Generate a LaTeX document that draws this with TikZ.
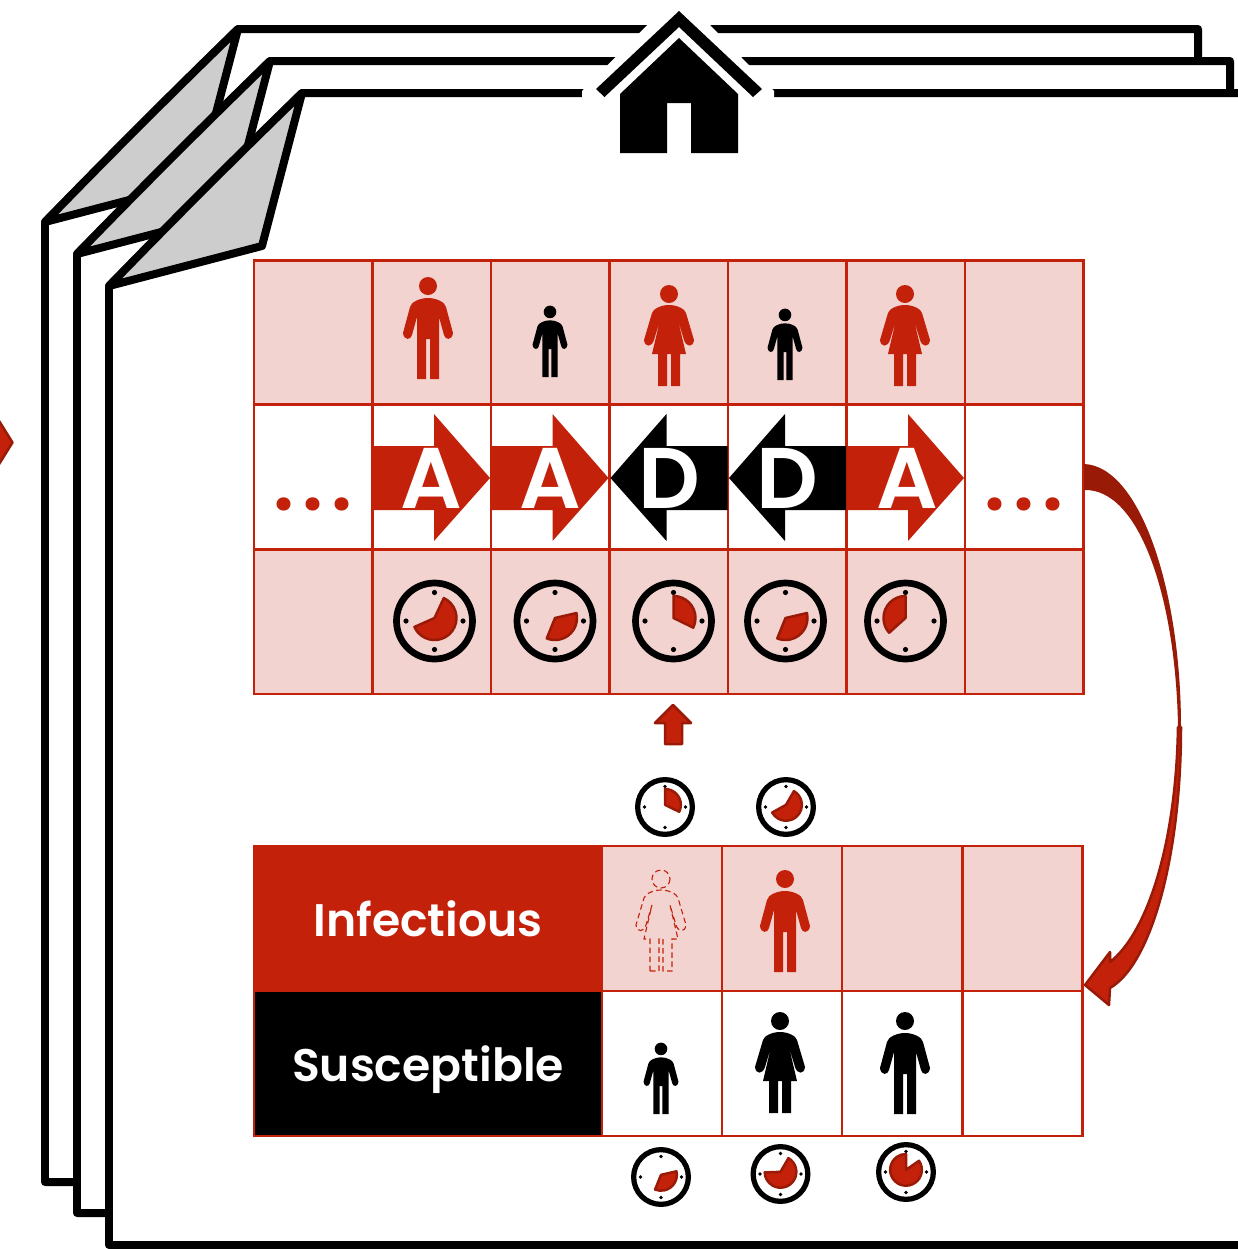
\documentclass[tikz,border=0pt]{standalone}
\usepackage{fontspec}
\usepackage{xcolor}
\usepackage{tikz}
\usetikzlibrary{positioning}
\newfontfamily\gothicfont[BoldFont={Poppins SemiBold}]{Poppins}
\definecolor{hhred}{HTML}{C4210B}
\definecolor{hhdark}{HTML}{9A1A08}
\definecolor{hhpink}{HTML}{F2D3D0}
\definecolor{hhgray}{HTML}{CDCDCD}
\tikzset{
  cellbox/.style={draw=hhred,line width=0.05cm,minimum width=2.37cm,minimum height=2.89cm,inner sep=0pt},
  slotbox/.style={draw=hhred,line width=0.05cm,minimum width=2.4cm,minimum height=2.9cm,inner sep=0pt},
  pagebox/.style={draw=black,line width=0.16cm,line join=round,fill=white},
  pagefold/.style={draw=black,line width=0.16cm,line join=round,fill=hhgray},
  redbit/.style={fill=hhred,draw=hhdark,line width=0.05cm,line join=round},
  redperson/.style={fill=hhred},
  blackperson/.style={fill=black},
  ghostperson/.style={draw=hhred,line width=0.022cm,dash pattern=on 0.11cm off 0.07cm},
  statetext/.style={text=white,text height=20.4pt,text depth=0pt,font=\gothicfont\bfseries\fontsize{26}{30}\selectfont},
  movetext/.style={text=white,inner sep=0pt,font=\gothicfont\bfseries\fontsize{49}{50}\selectfont},
  moretext/.style={text=hhred,inner sep=0pt,font=\gothicfont\bfseries\fontsize{46}{48}\selectfont}
}
% x, y, scale, style
\newcommand{\Man}[4]{
  \begin{scope}[shift={(#1,#2)},scale=#3]
    \path[#4] (0,-93) circle (9);
    \path[#4] (-11,0) -- (-11,-62) -- (-16,-44) .. controls (-17,-39) and (-24,-38) .. (-25,-46)
      -- (-18,-72) .. controls (-17,-77) and (-8,-81) .. (0,-81)
      .. controls (8,-81) and (17,-77) .. (18,-72) -- (25,-46)
      .. controls (24,-38) and (17,-39) .. (16,-44) -- (11,-62) -- (11,0) -- (2,0) -- (2,-40)
      -- (-2,-40) -- (-2,0) -- cycle;
  \end{scope}
}
\newcommand{\Woman}[4]{
  \begin{scope}[shift={(#1,#2)},scale=#3]
    \path[#4] (0,-92) circle (9);
    \path[#4] (-11,0) -- (-11,-32) -- (-17,-32) -- (-9,-66) -- (-15,-46)
      .. controls (-17,-39) and (-24,-38) .. (-25,-46)
      -- (-17,-73) .. controls (-16,-77) and (-8,-81) .. (0,-81)
      .. controls (8,-81) and (16,-77) .. (17,-73) -- (25,-46)
      .. controls (24,-38) and (17,-39) .. (15,-46) -- (9,-66) -- (17,-32) -- (11,-32) -- (11,0)
      -- (2,0) -- (2,-32) -- (-2,-32) -- (-2,0) -- cycle;
  \end{scope}
}
% x, y, scale, ring width, wedge from, wedge to
\newcommand{\Clock}[6]{
  \begin{scope}[shift={(#1,#2)},xscale=#3,yscale=-#3]
    \draw[line width=#4] (0,0) circle (38);
    \foreach \tick in {0,90,180,270} \fill (\tick:28.5) circle (2.6);
    \path[redbit] (0,3) -- +(#5:22) arc[start angle=#5,end angle=#6,radius=22] -- cycle;
  \end{scope}
}
\begin{document}
\begin{tikzpicture}[x=0.02cm,y=-0.02cm]
  \useasboundingbox (0,0) rectangle (1238,1249);
  \clip (0,0) rectangle (1238,1249);
  % pages, back to front
  \path[redbit] (-4,416) -- (12.5,442.5) -- (-4,469) -- cycle;
  \path[pagebox] (45,222) -- (45,1182) -- (1198,1182) -- (1198,29) -- (238,29) -- cycle;
  \path[pagefold] (45,222) .. controls (110,155) and (170,95) .. (238,29) -- (198,182) -- cycle;
  \path[pagebox] (77,254) -- (77,1213) -- (1230,1213) -- (1230,61) -- (270,61) -- cycle;
  \path[pagefold] (77,254) .. controls (142,187) and (202,127) .. (270,61) -- (230,214) -- cycle;
  \path[pagebox] (109,286) -- (109,1245) -- (1262,1245) -- (1262,93) -- (302,93) -- cycle;
  \path[pagefold] (109,286) .. controls (174,219) and (234,159) .. (302,93) -- (262,246) -- cycle;
  % house
  \fill[white] (679,-7) -- (582,91) -- (582,100) -- (774,100) -- (774,91) -- cycle;
  \fill (679,11) -- (762,89) -- (753,97) -- (679,27) -- (604.5,97) -- (596,89) -- cycle;
  \fill (679,38) -- (738,94) -- (738,153) -- (691,153) -- (691,103) -- (667,103) -- (667,153)
    -- (620,153) -- (620,94) -- cycle;
  % queue of people
  \foreach \col/\cx in {1/313.25,2/431.75,3/550.25,4/668.75,5/787.25,6/905.75,7/1024.25}{
    \node[cellbox,fill=hhpink] (top\col) at (\cx,332.5) {};
    \node[cellbox,fill=white] (mid\col) at (\cx,477.25) {};
    \node[cellbox,fill=hhpink] (low\col) at (\cx,622) {};
  }
  \Man{428}{379}{1}{redperson}
  \Man{550}{377}{0.7}{blackperson}
  \Woman{669}{386}{1}{redperson}
  \Man{785}{380}{0.7}{blackperson}
  \Woman{905}{386}{1}{redperson}
  % moves
  \foreach \cx in {373,491.5,847}
    \fill[hhred] (\cx,446) -- (\cx+61,446) -- (\cx+61,414) -- (\cx+117,478) -- (\cx+61,541)
      -- (\cx+61,510) -- (\cx,510) -- cycle;
  \foreach \cx in {610.5,729}
    \fill (\cx,478) -- (\cx+56,414) -- (\cx+56,446) -- (\cx+117,446) -- (\cx+117,510)
      -- (\cx+56,510) -- (\cx+56,541) -- cycle;
  \node[movetext] (moveA) at (431.5,478) {A};
  \node[movetext] (moveB) at (550,478) {A};
  \node[movetext] (moveC) at (669.5,478) {D};
  \node[movetext] (moveD) at (787.5,478) {D};
  \node[movetext] (moveE) at (907,478) {A};
  \node[moretext] (dotsL) at (313,504) {.\kern0.1em.\kern0.1em.};
  \node[moretext] (dotsR) at (1024,504) {.\kern0.1em.\kern0.1em.};
  % clocks of the queue
  \Clock{434.5}{621}{1}{0.134cm}{65}{-156}
  \Clock{555}{621}{1}{0.134cm}{13}{-112}
  \Clock{673.5}{621}{1}{0.134cm}{90}{-26}
  \Clock{785.5}{621}{1}{0.134cm}{13}{-112}
  \Clock{905.5}{621}{1}{0.134cm}{90}{222}
  \path[redbit] (673,705) -- (691,723) -- (682,723) -- (682,744) -- (665,744) -- (665,723)
    -- (655,723) -- cycle;
  \Clock{665}{807}{0.72}{0.105cm}{90}{-26}
  \Clock{786}{807}{0.72}{0.105cm}{60}{-151}
  % waiting lists
  \node[slotbox,fill=hhred,minimum width=6.96cm,statetext] (infectious) at (428,918.5) {Infectious};
  \node[slotbox,fill=black,minimum width=6.96cm,statetext] (susceptible) at (428,1063.5) {Susceptible};
  \foreach \col/\cx in {1/662,2/782,3/902,4/1022.5}{
    \node[slotbox,fill=hhpink] (inf\col) at (\cx,918.5) {};
    \node[slotbox,fill=white] (sus\col) at (\cx,1063.5) {};
  }
  \Woman{661}{971}{1}{ghostperson}
  \Man{785}{972}{1}{redperson}
  \Man{661}{1114}{0.7}{blackperson}
  \Woman{780}{1113}{1}{blackperson}
  \Man{905}{1114}{1}{blackperson}
  \Clock{661}{1177}{0.72}{0.105cm}{13}{-112}
  \Clock{780.5}{1174}{0.72}{0.105cm}{60}{-178}
  \Clock{906}{1172}{0.72}{0.105cm}{35}{-270}
  % big curved arrow
  \path[redbit] (1181,727) .. controls (1181,860) and (1150,965) .. (1110,988) -- (1109,1005)
    -- (1085,985) -- (1110,952) -- (1110,962) .. controls (1145,935) and (1176,850) .. (1178,727) -- cycle;
  \fill[hhdark] (1084,464) .. controls (1140,466) and (1181,590) .. (1181,727) -- (1178,727)
    .. controls (1176,600) and (1140,488) .. (1084,490) -- cycle;
\end{tikzpicture}
\end{document}
